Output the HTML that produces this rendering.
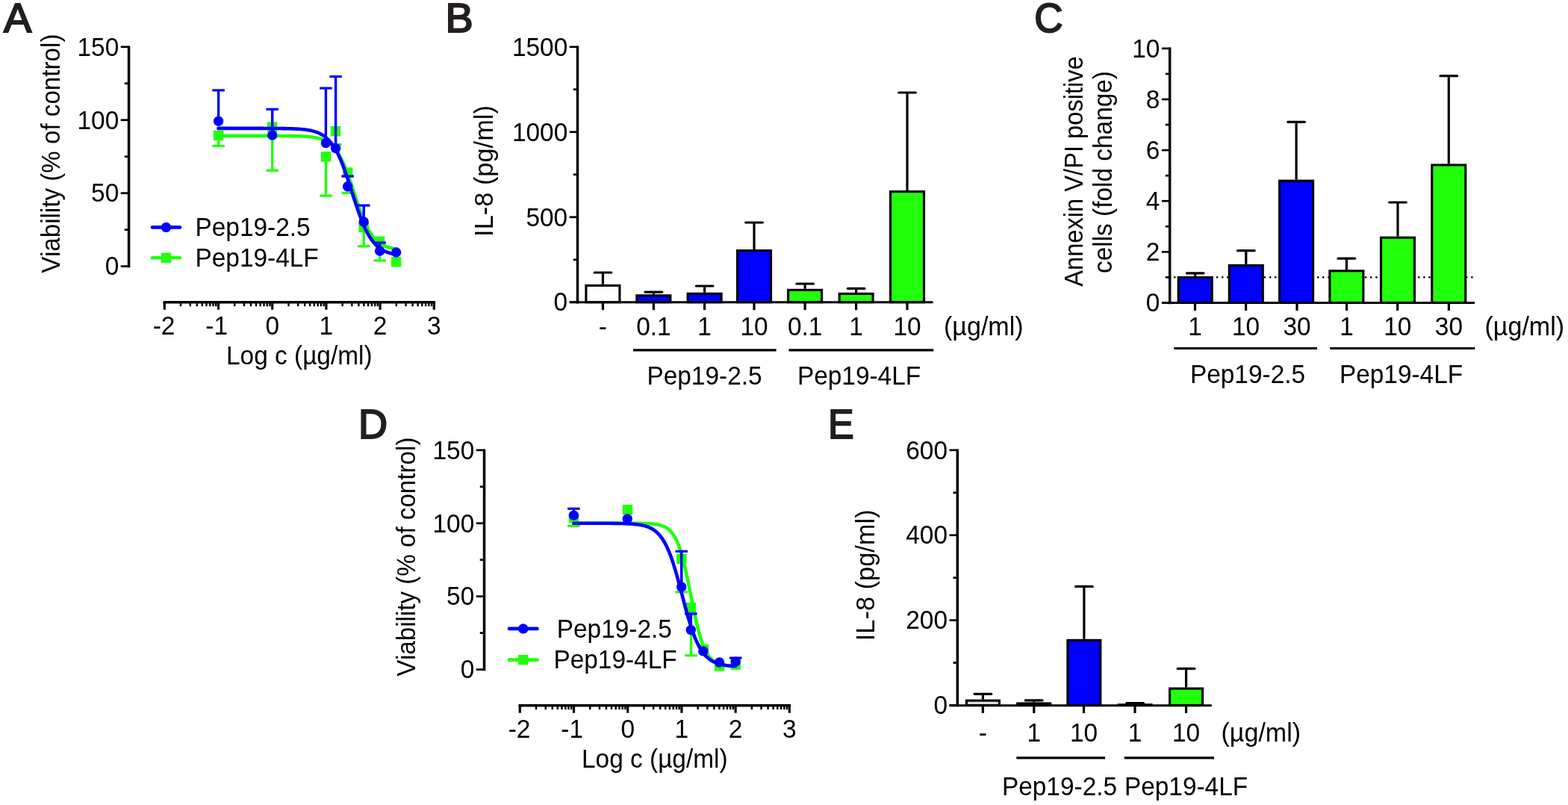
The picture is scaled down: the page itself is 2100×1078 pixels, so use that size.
<!DOCTYPE html>
<html lang="en"><head><meta charset="utf-8"><title>Figure</title>
<style>html,body{margin:0;padding:0;background:#fff}body{width:2100px;height:1078px;overflow:hidden}svg{display:block}</style>
</head><body>
<svg width="2100" height="1078" viewBox="0 0 2100 1078" font-family="'Liberation Sans', Arial, Helvetica, sans-serif" font-size="33.4" text-anchor="middle" fill="#000">
<rect width="2100" height="1078" fill="#fff"/>
<text transform="translate(4.9 43.3) scale(1.0 1)" font-size="55.8" text-anchor="start" fill="#231f20" stroke="#231f20" stroke-width="2.1">A</text>
<text transform="translate(596.5 43.3) scale(1.0 1)" font-size="55.8" text-anchor="start" fill="#231f20" stroke="#231f20" stroke-width="2.1">B</text>
<text transform="translate(1385.3 42.8) scale(0.95 1)" font-size="55.8" text-anchor="start" fill="#231f20" stroke="#231f20" stroke-width="2.1">C</text>
<text transform="translate(480 587) scale(0.97 1)" font-size="55.8" text-anchor="start" fill="#231f20" stroke="#231f20" stroke-width="2.1">D</text>
<text transform="translate(1109 587) scale(0.93 1)" font-size="55.8" text-anchor="start" fill="#231f20" stroke="#231f20" stroke-width="2.1">E</text>
<line x1="172.55" y1="61.45" x2="172.55" y2="358.35" stroke="#000" stroke-width="3.5" stroke-linecap="butt"/>
<line x1="161.75" y1="62.8" x2="172.55" y2="62.8" stroke="#000" stroke-width="2.7" stroke-linecap="butt"/>
<text transform="translate(159.25 74.59) scale(1 1.04)" text-anchor="end">150</text>
<line x1="166.75" y1="111.77" x2="172.55" y2="111.77" stroke="#000" stroke-width="2.7" stroke-linecap="butt"/>
<line x1="161.75" y1="160.73" x2="172.55" y2="160.73" stroke="#000" stroke-width="2.7" stroke-linecap="butt"/>
<text transform="translate(159.25 172.52) scale(1 1.04)" text-anchor="end">100</text>
<line x1="166.75" y1="209.7" x2="172.55" y2="209.7" stroke="#000" stroke-width="2.7" stroke-linecap="butt"/>
<line x1="161.75" y1="258.67" x2="172.55" y2="258.67" stroke="#000" stroke-width="2.7" stroke-linecap="butt"/>
<text transform="translate(159.25 270.46) scale(1 1.04)" text-anchor="end">50</text>
<line x1="166.75" y1="307.63" x2="172.55" y2="307.63" stroke="#000" stroke-width="2.7" stroke-linecap="butt"/>
<line x1="161.75" y1="356.6" x2="172.55" y2="356.6" stroke="#000" stroke-width="2.7" stroke-linecap="butt"/>
<text transform="translate(159.25 368.39) scale(1 1.04)" text-anchor="end">0</text>
<line x1="218.55" y1="404.7" x2="583.05" y2="404.7" stroke="#000" stroke-width="3.5" stroke-linecap="butt"/>
<line x1="220.3" y1="404.7" x2="220.3" y2="414.7" stroke="#000" stroke-width="3.2" stroke-linecap="butt"/>
<text transform="translate(219.5 448.2) scale(1 1.04)">-2</text>
<line x1="242.03" y1="404.7" x2="242.03" y2="410.2" stroke="#000" stroke-width="2.4" stroke-linecap="butt"/>
<line x1="254.75" y1="404.7" x2="254.75" y2="410.2" stroke="#000" stroke-width="2.4" stroke-linecap="butt"/>
<line x1="263.77" y1="404.7" x2="263.77" y2="410.2" stroke="#000" stroke-width="2.4" stroke-linecap="butt"/>
<line x1="270.77" y1="404.7" x2="270.77" y2="410.2" stroke="#000" stroke-width="2.4" stroke-linecap="butt"/>
<line x1="276.48" y1="404.7" x2="276.48" y2="410.2" stroke="#000" stroke-width="2.4" stroke-linecap="butt"/>
<line x1="281.32" y1="404.7" x2="281.32" y2="410.2" stroke="#000" stroke-width="2.4" stroke-linecap="butt"/>
<line x1="285.5" y1="404.7" x2="285.5" y2="410.2" stroke="#000" stroke-width="2.4" stroke-linecap="butt"/>
<line x1="289.2" y1="404.7" x2="289.2" y2="410.2" stroke="#000" stroke-width="2.4" stroke-linecap="butt"/>
<line x1="292.5" y1="404.7" x2="292.5" y2="414.7" stroke="#000" stroke-width="3.2" stroke-linecap="butt"/>
<text transform="translate(290.1 448.2) scale(1 1.04)">-1</text>
<line x1="314.23" y1="404.7" x2="314.23" y2="410.2" stroke="#000" stroke-width="2.4" stroke-linecap="butt"/>
<line x1="326.95" y1="404.7" x2="326.95" y2="410.2" stroke="#000" stroke-width="2.4" stroke-linecap="butt"/>
<line x1="335.97" y1="404.7" x2="335.97" y2="410.2" stroke="#000" stroke-width="2.4" stroke-linecap="butt"/>
<line x1="342.97" y1="404.7" x2="342.97" y2="410.2" stroke="#000" stroke-width="2.4" stroke-linecap="butt"/>
<line x1="348.68" y1="404.7" x2="348.68" y2="410.2" stroke="#000" stroke-width="2.4" stroke-linecap="butt"/>
<line x1="353.52" y1="404.7" x2="353.52" y2="410.2" stroke="#000" stroke-width="2.4" stroke-linecap="butt"/>
<line x1="357.7" y1="404.7" x2="357.7" y2="410.2" stroke="#000" stroke-width="2.4" stroke-linecap="butt"/>
<line x1="361.4" y1="404.7" x2="361.4" y2="410.2" stroke="#000" stroke-width="2.4" stroke-linecap="butt"/>
<line x1="364.7" y1="404.7" x2="364.7" y2="414.7" stroke="#000" stroke-width="3.2" stroke-linecap="butt"/>
<text transform="translate(364.7 448.2) scale(1 1.04)">0</text>
<line x1="386.43" y1="404.7" x2="386.43" y2="410.2" stroke="#000" stroke-width="2.4" stroke-linecap="butt"/>
<line x1="399.15" y1="404.7" x2="399.15" y2="410.2" stroke="#000" stroke-width="2.4" stroke-linecap="butt"/>
<line x1="408.17" y1="404.7" x2="408.17" y2="410.2" stroke="#000" stroke-width="2.4" stroke-linecap="butt"/>
<line x1="415.17" y1="404.7" x2="415.17" y2="410.2" stroke="#000" stroke-width="2.4" stroke-linecap="butt"/>
<line x1="420.88" y1="404.7" x2="420.88" y2="410.2" stroke="#000" stroke-width="2.4" stroke-linecap="butt"/>
<line x1="425.72" y1="404.7" x2="425.72" y2="410.2" stroke="#000" stroke-width="2.4" stroke-linecap="butt"/>
<line x1="429.9" y1="404.7" x2="429.9" y2="410.2" stroke="#000" stroke-width="2.4" stroke-linecap="butt"/>
<line x1="433.6" y1="404.7" x2="433.6" y2="410.2" stroke="#000" stroke-width="2.4" stroke-linecap="butt"/>
<line x1="436.9" y1="404.7" x2="436.9" y2="414.7" stroke="#000" stroke-width="3.2" stroke-linecap="butt"/>
<text transform="translate(436.9 448.2) scale(1 1.04)">1</text>
<line x1="458.63" y1="404.7" x2="458.63" y2="410.2" stroke="#000" stroke-width="2.4" stroke-linecap="butt"/>
<line x1="471.35" y1="404.7" x2="471.35" y2="410.2" stroke="#000" stroke-width="2.4" stroke-linecap="butt"/>
<line x1="480.37" y1="404.7" x2="480.37" y2="410.2" stroke="#000" stroke-width="2.4" stroke-linecap="butt"/>
<line x1="487.37" y1="404.7" x2="487.37" y2="410.2" stroke="#000" stroke-width="2.4" stroke-linecap="butt"/>
<line x1="493.08" y1="404.7" x2="493.08" y2="410.2" stroke="#000" stroke-width="2.4" stroke-linecap="butt"/>
<line x1="497.92" y1="404.7" x2="497.92" y2="410.2" stroke="#000" stroke-width="2.4" stroke-linecap="butt"/>
<line x1="502.1" y1="404.7" x2="502.1" y2="410.2" stroke="#000" stroke-width="2.4" stroke-linecap="butt"/>
<line x1="505.8" y1="404.7" x2="505.8" y2="410.2" stroke="#000" stroke-width="2.4" stroke-linecap="butt"/>
<line x1="509.1" y1="404.7" x2="509.1" y2="414.7" stroke="#000" stroke-width="3.2" stroke-linecap="butt"/>
<text transform="translate(509.1 448.2) scale(1 1.04)">2</text>
<line x1="530.83" y1="404.7" x2="530.83" y2="410.2" stroke="#000" stroke-width="2.4" stroke-linecap="butt"/>
<line x1="543.55" y1="404.7" x2="543.55" y2="410.2" stroke="#000" stroke-width="2.4" stroke-linecap="butt"/>
<line x1="552.57" y1="404.7" x2="552.57" y2="410.2" stroke="#000" stroke-width="2.4" stroke-linecap="butt"/>
<line x1="559.57" y1="404.7" x2="559.57" y2="410.2" stroke="#000" stroke-width="2.4" stroke-linecap="butt"/>
<line x1="565.28" y1="404.7" x2="565.28" y2="410.2" stroke="#000" stroke-width="2.4" stroke-linecap="butt"/>
<line x1="570.12" y1="404.7" x2="570.12" y2="410.2" stroke="#000" stroke-width="2.4" stroke-linecap="butt"/>
<line x1="574.3" y1="404.7" x2="574.3" y2="410.2" stroke="#000" stroke-width="2.4" stroke-linecap="butt"/>
<line x1="578" y1="404.7" x2="578" y2="410.2" stroke="#000" stroke-width="2.4" stroke-linecap="butt"/>
<line x1="581.3" y1="404.7" x2="581.3" y2="414.7" stroke="#000" stroke-width="3.2" stroke-linecap="butt"/>
<text transform="translate(581.3 448.2) scale(1 1.04)">3</text>
<text transform="translate(400.8 488.4) scale(1 1.04)">Log c (µg/ml)</text>
<text transform="translate(79.7 205.6) rotate(-90) scale(0.993 1.04)">Viability (% of control)</text>
<polyline points="292.4,181.89 295.38,181.89 298.36,181.89 301.34,181.89 304.32,181.89 307.3,181.89 310.27,181.89 313.25,181.89 316.23,181.89 319.21,181.89 322.19,181.89 325.17,181.89 328.15,181.89 331.13,181.89 334.11,181.89 337.09,181.89 340.07,181.89 343.05,181.89 346.02,181.89 349,181.89 351.98,181.9 354.96,181.9 357.94,181.9 360.92,181.91 363.9,181.91 366.88,181.92 369.86,181.92 372.84,181.93 375.82,181.95 378.8,181.96 381.77,181.98 384.75,182.01 387.73,182.04 390.71,182.08 393.69,182.13 396.67,182.2 399.65,182.28 402.63,182.39 405.61,182.52 408.59,182.69 411.57,182.91 414.55,183.18 417.52,183.52 420.5,183.95 423.48,184.5 426.46,185.18 429.44,186.04 432.42,187.12 435.4,188.46 438.38,190.12 441.36,192.18 444.34,194.71 447.32,197.8 450.3,201.52 453.27,205.95 456.25,211.17 459.23,217.21 462.21,224.07 465.19,231.7 468.17,239.99 471.15,248.77 474.13,257.81 477.11,266.87 480.09,275.7 483.07,284.07 486.04,291.81 489.02,298.79 492,304.95 494.98,310.28 497.96,314.83 500.94,318.65 503.92,321.82 506.9,324.42 509.88,326.54 512.86,328.26 515.84,329.65 518.82,330.76 521.79,331.65 524.77,332.36 527.75,332.92 530.73,333.36" fill="none" stroke="#21ff0b" stroke-width="4.6" stroke-linejoin="round" stroke-linecap="round"/>
<line x1="292.6" y1="181.4" x2="292.6" y2="195.5" stroke="#21ff0b" stroke-width="3.4" stroke-linecap="butt"/>
<line x1="284.35" y1="195.5" x2="300.85" y2="195.5" stroke="#21ff0b" stroke-width="3.2" stroke-linecap="butt"/>
<line x1="364.7" y1="170" x2="364.7" y2="228.3" stroke="#21ff0b" stroke-width="3.4" stroke-linecap="butt"/>
<line x1="356.45" y1="228.3" x2="372.95" y2="228.3" stroke="#21ff0b" stroke-width="3.2" stroke-linecap="butt"/>
<line x1="436.5" y1="209.8" x2="436.5" y2="262.1" stroke="#21ff0b" stroke-width="3.4" stroke-linecap="butt"/>
<line x1="428.25" y1="262.1" x2="444.75" y2="262.1" stroke="#21ff0b" stroke-width="3.2" stroke-linecap="butt"/>
<line x1="449.4" y1="175.7" x2="449.4" y2="193.5" stroke="#21ff0b" stroke-width="3.4" stroke-linecap="butt"/>
<line x1="441.15" y1="193.5" x2="457.65" y2="193.5" stroke="#21ff0b" stroke-width="3.2" stroke-linecap="butt"/>
<line x1="465.8" y1="231" x2="465.8" y2="258.4" stroke="#21ff0b" stroke-width="3.4" stroke-linecap="butt"/>
<line x1="457.55" y1="258.4" x2="474.05" y2="258.4" stroke="#21ff0b" stroke-width="3.2" stroke-linecap="butt"/>
<line x1="487.2" y1="304.5" x2="487.2" y2="329.8" stroke="#21ff0b" stroke-width="3.4" stroke-linecap="butt"/>
<line x1="478.95" y1="329.8" x2="495.45" y2="329.8" stroke="#21ff0b" stroke-width="3.2" stroke-linecap="butt"/>
<line x1="508.6" y1="323.2" x2="508.6" y2="348.9" stroke="#21ff0b" stroke-width="3.4" stroke-linecap="butt"/>
<line x1="500.35" y1="348.9" x2="516.85" y2="348.9" stroke="#21ff0b" stroke-width="3.2" stroke-linecap="butt"/>
<rect x="285.9" y="174.7" width="13.4" height="13.4" fill="#21ff0b"/>
<rect x="358" y="163.3" width="13.4" height="13.4" fill="#21ff0b"/>
<rect x="429.8" y="203.1" width="13.4" height="13.4" fill="#21ff0b"/>
<rect x="442.7" y="169" width="13.4" height="13.4" fill="#21ff0b"/>
<rect x="459.1" y="224.3" width="13.4" height="13.4" fill="#21ff0b"/>
<rect x="480.5" y="297.8" width="13.4" height="13.4" fill="#21ff0b"/>
<rect x="501.9" y="316.5" width="13.4" height="13.4" fill="#21ff0b"/>
<rect x="523.9" y="344.1" width="13.4" height="13.4" fill="#21ff0b"/>
<polyline points="292.4,171.9 295.38,171.9 298.36,171.9 301.34,171.9 304.32,171.9 307.3,171.9 310.27,171.9 313.25,171.9 316.23,171.9 319.21,171.9 322.19,171.9 325.17,171.9 328.15,171.9 331.13,171.9 334.11,171.9 337.09,171.91 340.07,171.91 343.05,171.91 346.02,171.91 349,171.92 351.98,171.92 354.96,171.93 357.94,171.94 360.92,171.95 363.9,171.96 366.88,171.98 369.86,172 372.84,172.02 375.82,172.05 378.8,172.09 381.77,172.14 384.75,172.19 387.73,172.26 390.71,172.35 393.69,172.47 396.67,172.6 399.65,172.78 402.63,172.99 405.61,173.25 408.59,173.58 411.57,173.99 414.55,174.49 417.52,175.11 420.5,175.88 423.48,176.82 426.46,177.98 429.44,179.4 432.42,181.13 435.4,183.24 438.38,185.78 441.36,188.84 444.34,192.47 447.32,196.77 450.3,201.78 453.27,207.56 456.25,214.12 459.23,221.44 462.21,229.47 465.19,238.09 468.17,247.14 471.15,256.43 474.13,265.75 477.11,274.86 480.09,283.59 483.07,291.75 486.04,299.22 489.02,305.94 492,311.88 494.98,317.05 497.96,321.48 500.94,325.25 503.92,328.42 506.9,331.06 509.88,333.26 512.86,335.06 515.84,336.54 518.82,337.75 521.79,338.73 524.77,339.53 527.75,340.18 530.73,340.71" fill="none" stroke="#0000ff" stroke-width="4.6" stroke-linejoin="round" stroke-linecap="round"/>
<line x1="292.6" y1="162.2" x2="292.6" y2="120.9" stroke="#0000ff" stroke-width="3.4" stroke-linecap="butt"/>
<line x1="284.35" y1="120.9" x2="300.85" y2="120.9" stroke="#0000ff" stroke-width="3.2" stroke-linecap="butt"/>
<line x1="364.7" y1="181" x2="364.7" y2="146.3" stroke="#0000ff" stroke-width="3.4" stroke-linecap="butt"/>
<line x1="356.45" y1="146.3" x2="372.95" y2="146.3" stroke="#0000ff" stroke-width="3.2" stroke-linecap="butt"/>
<line x1="436.4" y1="191.6" x2="436.4" y2="118.1" stroke="#0000ff" stroke-width="3.4" stroke-linecap="butt"/>
<line x1="428.15" y1="118.1" x2="444.65" y2="118.1" stroke="#0000ff" stroke-width="3.2" stroke-linecap="butt"/>
<line x1="449.6" y1="198.5" x2="449.6" y2="102.5" stroke="#0000ff" stroke-width="3.4" stroke-linecap="butt"/>
<line x1="441.35" y1="102.5" x2="457.85" y2="102.5" stroke="#0000ff" stroke-width="3.2" stroke-linecap="butt"/>
<line x1="465.6" y1="249.8" x2="465.6" y2="236" stroke="#0000ff" stroke-width="3.4" stroke-linecap="butt"/>
<line x1="457.35" y1="236" x2="473.85" y2="236" stroke="#0000ff" stroke-width="3.2" stroke-linecap="butt"/>
<line x1="487.2" y1="297" x2="487.2" y2="275.1" stroke="#0000ff" stroke-width="3.4" stroke-linecap="butt"/>
<line x1="478.95" y1="275.1" x2="495.45" y2="275.1" stroke="#0000ff" stroke-width="3.2" stroke-linecap="butt"/>
<line x1="508.6" y1="336" x2="508.6" y2="325" stroke="#0000ff" stroke-width="3.4" stroke-linecap="butt"/>
<line x1="500.35" y1="325" x2="516.85" y2="325" stroke="#0000ff" stroke-width="3.2" stroke-linecap="butt"/>
<circle cx="292.6" cy="162.2" r="6.7" fill="#0000ff"/>
<circle cx="364.7" cy="181" r="6.7" fill="#0000ff"/>
<circle cx="436.4" cy="191.6" r="6.7" fill="#0000ff"/>
<circle cx="449.6" cy="198.5" r="6.7" fill="#0000ff"/>
<circle cx="465.6" cy="249.8" r="6.7" fill="#0000ff"/>
<circle cx="487.2" cy="297" r="6.7" fill="#0000ff"/>
<circle cx="508.6" cy="336" r="6.7" fill="#0000ff"/>
<circle cx="530.6" cy="338" r="6.7" fill="#0000ff"/>
<line x1="204" y1="304.4" x2="241" y2="304.4" stroke="#0000ff" stroke-width="4.6" stroke-linecap="round"/>
<circle cx="222.5" cy="304.4" r="6.7" fill="#0000ff"/>
<line x1="204" y1="345.3" x2="241" y2="345.3" stroke="#21ff0b" stroke-width="4.6" stroke-linecap="round"/>
<rect x="215.8" y="338.6" width="13.4" height="13.4" fill="#21ff0b"/>
<text transform="translate(261.5 316.2) scale(1 1.04)" text-anchor="start">Pep19-2.5</text>
<text transform="translate(261.5 357.2) scale(1 1.04)" text-anchor="start">Pep19-4LF</text>
<line x1="648.55" y1="601.45" x2="648.55" y2="898.35" stroke="#000" stroke-width="3.5" stroke-linecap="butt"/>
<line x1="637.75" y1="602.8" x2="648.55" y2="602.8" stroke="#000" stroke-width="2.7" stroke-linecap="butt"/>
<text transform="translate(635.25 614.59) scale(1 1.04)" text-anchor="end">150</text>
<line x1="642.75" y1="651.77" x2="648.55" y2="651.77" stroke="#000" stroke-width="2.7" stroke-linecap="butt"/>
<line x1="637.75" y1="700.73" x2="648.55" y2="700.73" stroke="#000" stroke-width="2.7" stroke-linecap="butt"/>
<text transform="translate(635.25 712.52) scale(1 1.04)" text-anchor="end">100</text>
<line x1="642.75" y1="749.7" x2="648.55" y2="749.7" stroke="#000" stroke-width="2.7" stroke-linecap="butt"/>
<line x1="637.75" y1="798.67" x2="648.55" y2="798.67" stroke="#000" stroke-width="2.7" stroke-linecap="butt"/>
<text transform="translate(635.25 810.46) scale(1 1.04)" text-anchor="end">50</text>
<line x1="642.75" y1="847.63" x2="648.55" y2="847.63" stroke="#000" stroke-width="2.7" stroke-linecap="butt"/>
<line x1="637.75" y1="896.6" x2="648.55" y2="896.6" stroke="#000" stroke-width="2.7" stroke-linecap="butt"/>
<text transform="translate(635.25 908.39) scale(1 1.04)" text-anchor="end">0</text>
<line x1="694.55" y1="944.7" x2="1059.05" y2="944.7" stroke="#000" stroke-width="3.5" stroke-linecap="butt"/>
<line x1="696.3" y1="944.7" x2="696.3" y2="954.7" stroke="#000" stroke-width="3.2" stroke-linecap="butt"/>
<text transform="translate(695.5 988.2) scale(1 1.04)">-2</text>
<line x1="718.03" y1="944.7" x2="718.03" y2="950.2" stroke="#000" stroke-width="2.4" stroke-linecap="butt"/>
<line x1="730.75" y1="944.7" x2="730.75" y2="950.2" stroke="#000" stroke-width="2.4" stroke-linecap="butt"/>
<line x1="739.77" y1="944.7" x2="739.77" y2="950.2" stroke="#000" stroke-width="2.4" stroke-linecap="butt"/>
<line x1="746.77" y1="944.7" x2="746.77" y2="950.2" stroke="#000" stroke-width="2.4" stroke-linecap="butt"/>
<line x1="752.48" y1="944.7" x2="752.48" y2="950.2" stroke="#000" stroke-width="2.4" stroke-linecap="butt"/>
<line x1="757.32" y1="944.7" x2="757.32" y2="950.2" stroke="#000" stroke-width="2.4" stroke-linecap="butt"/>
<line x1="761.5" y1="944.7" x2="761.5" y2="950.2" stroke="#000" stroke-width="2.4" stroke-linecap="butt"/>
<line x1="765.2" y1="944.7" x2="765.2" y2="950.2" stroke="#000" stroke-width="2.4" stroke-linecap="butt"/>
<line x1="768.5" y1="944.7" x2="768.5" y2="954.7" stroke="#000" stroke-width="3.2" stroke-linecap="butt"/>
<text transform="translate(766.1 988.2) scale(1 1.04)">-1</text>
<line x1="790.23" y1="944.7" x2="790.23" y2="950.2" stroke="#000" stroke-width="2.4" stroke-linecap="butt"/>
<line x1="802.95" y1="944.7" x2="802.95" y2="950.2" stroke="#000" stroke-width="2.4" stroke-linecap="butt"/>
<line x1="811.97" y1="944.7" x2="811.97" y2="950.2" stroke="#000" stroke-width="2.4" stroke-linecap="butt"/>
<line x1="818.97" y1="944.7" x2="818.97" y2="950.2" stroke="#000" stroke-width="2.4" stroke-linecap="butt"/>
<line x1="824.68" y1="944.7" x2="824.68" y2="950.2" stroke="#000" stroke-width="2.4" stroke-linecap="butt"/>
<line x1="829.52" y1="944.7" x2="829.52" y2="950.2" stroke="#000" stroke-width="2.4" stroke-linecap="butt"/>
<line x1="833.7" y1="944.7" x2="833.7" y2="950.2" stroke="#000" stroke-width="2.4" stroke-linecap="butt"/>
<line x1="837.4" y1="944.7" x2="837.4" y2="950.2" stroke="#000" stroke-width="2.4" stroke-linecap="butt"/>
<line x1="840.7" y1="944.7" x2="840.7" y2="954.7" stroke="#000" stroke-width="3.2" stroke-linecap="butt"/>
<text transform="translate(840.7 988.2) scale(1 1.04)">0</text>
<line x1="862.43" y1="944.7" x2="862.43" y2="950.2" stroke="#000" stroke-width="2.4" stroke-linecap="butt"/>
<line x1="875.15" y1="944.7" x2="875.15" y2="950.2" stroke="#000" stroke-width="2.4" stroke-linecap="butt"/>
<line x1="884.17" y1="944.7" x2="884.17" y2="950.2" stroke="#000" stroke-width="2.4" stroke-linecap="butt"/>
<line x1="891.17" y1="944.7" x2="891.17" y2="950.2" stroke="#000" stroke-width="2.4" stroke-linecap="butt"/>
<line x1="896.88" y1="944.7" x2="896.88" y2="950.2" stroke="#000" stroke-width="2.4" stroke-linecap="butt"/>
<line x1="901.72" y1="944.7" x2="901.72" y2="950.2" stroke="#000" stroke-width="2.4" stroke-linecap="butt"/>
<line x1="905.9" y1="944.7" x2="905.9" y2="950.2" stroke="#000" stroke-width="2.4" stroke-linecap="butt"/>
<line x1="909.6" y1="944.7" x2="909.6" y2="950.2" stroke="#000" stroke-width="2.4" stroke-linecap="butt"/>
<line x1="912.9" y1="944.7" x2="912.9" y2="954.7" stroke="#000" stroke-width="3.2" stroke-linecap="butt"/>
<text transform="translate(912.9 988.2) scale(1 1.04)">1</text>
<line x1="934.63" y1="944.7" x2="934.63" y2="950.2" stroke="#000" stroke-width="2.4" stroke-linecap="butt"/>
<line x1="947.35" y1="944.7" x2="947.35" y2="950.2" stroke="#000" stroke-width="2.4" stroke-linecap="butt"/>
<line x1="956.37" y1="944.7" x2="956.37" y2="950.2" stroke="#000" stroke-width="2.4" stroke-linecap="butt"/>
<line x1="963.37" y1="944.7" x2="963.37" y2="950.2" stroke="#000" stroke-width="2.4" stroke-linecap="butt"/>
<line x1="969.08" y1="944.7" x2="969.08" y2="950.2" stroke="#000" stroke-width="2.4" stroke-linecap="butt"/>
<line x1="973.92" y1="944.7" x2="973.92" y2="950.2" stroke="#000" stroke-width="2.4" stroke-linecap="butt"/>
<line x1="978.1" y1="944.7" x2="978.1" y2="950.2" stroke="#000" stroke-width="2.4" stroke-linecap="butt"/>
<line x1="981.8" y1="944.7" x2="981.8" y2="950.2" stroke="#000" stroke-width="2.4" stroke-linecap="butt"/>
<line x1="985.1" y1="944.7" x2="985.1" y2="954.7" stroke="#000" stroke-width="3.2" stroke-linecap="butt"/>
<text transform="translate(985.1 988.2) scale(1 1.04)">2</text>
<line x1="1006.83" y1="944.7" x2="1006.83" y2="950.2" stroke="#000" stroke-width="2.4" stroke-linecap="butt"/>
<line x1="1019.55" y1="944.7" x2="1019.55" y2="950.2" stroke="#000" stroke-width="2.4" stroke-linecap="butt"/>
<line x1="1028.57" y1="944.7" x2="1028.57" y2="950.2" stroke="#000" stroke-width="2.4" stroke-linecap="butt"/>
<line x1="1035.57" y1="944.7" x2="1035.57" y2="950.2" stroke="#000" stroke-width="2.4" stroke-linecap="butt"/>
<line x1="1041.28" y1="944.7" x2="1041.28" y2="950.2" stroke="#000" stroke-width="2.4" stroke-linecap="butt"/>
<line x1="1046.12" y1="944.7" x2="1046.12" y2="950.2" stroke="#000" stroke-width="2.4" stroke-linecap="butt"/>
<line x1="1050.3" y1="944.7" x2="1050.3" y2="950.2" stroke="#000" stroke-width="2.4" stroke-linecap="butt"/>
<line x1="1054" y1="944.7" x2="1054" y2="950.2" stroke="#000" stroke-width="2.4" stroke-linecap="butt"/>
<line x1="1057.3" y1="944.7" x2="1057.3" y2="954.7" stroke="#000" stroke-width="3.2" stroke-linecap="butt"/>
<text transform="translate(1057.3 988.2) scale(1 1.04)">3</text>
<text transform="translate(876.8 1028.4) scale(1 1.04)">Log c (µg/ml)</text>
<text transform="translate(555.7 745.6) rotate(-90) scale(0.993 1.04)">Viability (% of control)</text>
<polyline points="768.4,700.73 771.11,700.73 773.82,700.73 776.52,700.73 779.23,700.73 781.94,700.73 784.64,700.73 787.35,700.73 790.06,700.73 792.77,700.73 795.48,700.73 798.18,700.73 800.89,700.73 803.6,700.73 806.31,700.73 809.01,700.73 811.72,700.73 814.43,700.74 817.13,700.74 819.84,700.74 822.55,700.74 825.26,700.74 827.97,700.74 830.67,700.74 833.38,700.75 836.09,700.75 838.8,700.76 841.5,700.76 844.21,700.77 846.92,700.78 849.62,700.8 852.33,700.82 855.04,700.85 857.75,700.89 860.46,700.95 863.16,701.02 865.87,701.11 868.58,701.23 871.29,701.4 873.99,701.62 876.7,701.91 879.41,702.29 882.12,702.8 884.82,703.47 887.53,704.36 890.24,705.52 892.95,707.05 895.65,709.04 898.36,711.62 901.07,714.94 903.77,719.18 906.48,724.5 909.19,731.1 911.9,739.11 914.61,748.61 917.31,759.55 920.02,771.77 922.73,784.92 925.44,798.53 928.14,812.07 930.85,825.01 933.56,836.92 936.27,847.49 938.97,856.59 941.68,864.21 944.39,870.45 947.1,875.47 949.8,879.44 952.51,882.55 955.22,884.96 957.93,886.82 960.63,888.24 963.34,889.32 966.05,890.14 968.75,890.77 971.46,891.24 974.17,891.59 976.88,891.86 979.59,892.07 982.29,892.22 985,892.33" fill="none" stroke="#21ff0b" stroke-width="4.6" stroke-linejoin="round" stroke-linecap="round"/>
<line x1="768.4" y1="693.6" x2="768.4" y2="704.3" stroke="#21ff0b" stroke-width="3.4" stroke-linecap="butt"/>
<line x1="760.15" y1="704.3" x2="776.65" y2="704.3" stroke="#21ff0b" stroke-width="3.2" stroke-linecap="butt"/>
<line x1="912.8" y1="748.5" x2="912.8" y2="792.8" stroke="#21ff0b" stroke-width="3.4" stroke-linecap="butt"/>
<line x1="904.55" y1="792.8" x2="921.05" y2="792.8" stroke="#21ff0b" stroke-width="3.2" stroke-linecap="butt"/>
<line x1="925.5" y1="813.5" x2="925.5" y2="877.8" stroke="#21ff0b" stroke-width="3.4" stroke-linecap="butt"/>
<line x1="917.25" y1="877.8" x2="933.75" y2="877.8" stroke="#21ff0b" stroke-width="3.2" stroke-linecap="butt"/>
<rect x="761.7" y="686.9" width="13.4" height="13.4" fill="#21ff0b"/>
<rect x="833.8" y="675.9" width="13.4" height="13.4" fill="#21ff0b"/>
<rect x="906.1" y="741.8" width="13.4" height="13.4" fill="#21ff0b"/>
<rect x="918.8" y="806.8" width="13.4" height="13.4" fill="#21ff0b"/>
<rect x="935.8" y="862.8" width="13.4" height="13.4" fill="#21ff0b"/>
<rect x="956.9" y="885.3" width="13.4" height="13.4" fill="#21ff0b"/>
<rect x="978.6" y="883.6" width="13.4" height="13.4" fill="#21ff0b"/>
<polyline points="768.4,700.74 771.11,700.74 773.82,700.74 776.52,700.74 779.23,700.74 781.94,700.74 784.64,700.74 787.35,700.74 790.06,700.74 792.77,700.75 795.48,700.75 798.18,700.75 800.89,700.76 803.6,700.76 806.31,700.77 809.01,700.78 811.72,700.79 814.43,700.8 817.13,700.82 819.84,700.84 822.55,700.87 825.26,700.9 827.97,700.94 830.67,700.99 833.38,701.06 836.09,701.13 838.8,701.23 841.5,701.35 844.21,701.49 846.92,701.68 849.62,701.9 852.33,702.18 855.04,702.53 857.75,702.96 860.46,703.48 863.16,704.13 865.87,704.94 868.58,705.92 871.29,707.13 873.99,708.61 876.7,710.41 879.41,712.6 882.12,715.24 884.82,718.41 887.53,722.2 890.24,726.67 892.95,731.9 895.65,737.96 898.36,744.86 901.07,752.62 903.77,761.19 906.48,770.46 909.19,780.3 911.9,790.5 914.61,800.85 917.31,811.1 920.02,821.03 922.73,830.43 925.44,839.14 928.14,847.07 930.85,854.15 933.56,860.37 936.27,865.76 938.97,870.38 941.68,874.3 944.39,877.59 947.1,880.33 949.8,882.6 952.51,884.48 955.22,886.01 957.93,887.27 960.63,888.3 963.34,889.13 966.05,889.81 968.75,890.36 971.46,890.81 974.17,891.17 976.88,891.46 979.59,891.7 982.29,891.89 985,892.04" fill="none" stroke="#0000ff" stroke-width="4.6" stroke-linejoin="round" stroke-linecap="round"/>
<line x1="768.4" y1="690.1" x2="768.4" y2="681.2" stroke="#0000ff" stroke-width="3.4" stroke-linecap="butt"/>
<line x1="760.15" y1="681.2" x2="776.65" y2="681.2" stroke="#0000ff" stroke-width="3.2" stroke-linecap="butt"/>
<line x1="912.7" y1="786" x2="912.7" y2="738.3" stroke="#0000ff" stroke-width="3.4" stroke-linecap="butt"/>
<line x1="904.45" y1="738.3" x2="920.95" y2="738.3" stroke="#0000ff" stroke-width="3.2" stroke-linecap="butt"/>
<line x1="925.3" y1="843.6" x2="925.3" y2="821.9" stroke="#0000ff" stroke-width="3.4" stroke-linecap="butt"/>
<line x1="917.05" y1="821.9" x2="933.55" y2="821.9" stroke="#0000ff" stroke-width="3.2" stroke-linecap="butt"/>
<line x1="985.2" y1="886.1" x2="985.2" y2="881.1" stroke="#0000ff" stroke-width="3.4" stroke-linecap="butt"/>
<line x1="976.95" y1="881.1" x2="993.45" y2="881.1" stroke="#0000ff" stroke-width="3.2" stroke-linecap="butt"/>
<circle cx="768.4" cy="690.1" r="6.7" fill="#0000ff"/>
<circle cx="840.3" cy="694.8" r="6.7" fill="#0000ff"/>
<circle cx="912.7" cy="786" r="6.7" fill="#0000ff"/>
<circle cx="925.3" cy="843.6" r="6.7" fill="#0000ff"/>
<circle cx="941.8" cy="871.9" r="6.7" fill="#0000ff"/>
<circle cx="963.5" cy="887" r="6.7" fill="#0000ff"/>
<circle cx="985.2" cy="886.1" r="6.7" fill="#0000ff"/>
<line x1="682" y1="841.9" x2="719.5" y2="841.9" stroke="#0000ff" stroke-width="4.6" stroke-linecap="round"/>
<circle cx="700.75" cy="841.9" r="6.7" fill="#0000ff"/>
<line x1="682" y1="883.6" x2="719.5" y2="883.6" stroke="#21ff0b" stroke-width="4.6" stroke-linecap="round"/>
<rect x="694.05" y="876.9" width="13.4" height="13.4" fill="#21ff0b"/>
<text transform="translate(822.8 853.6) scale(1 1.04)">Pep19-2.5</text>
<text transform="translate(824 895.3) scale(1 1.04)">Pep19-4LF</text>
<line x1="807.4" y1="365" x2="807.4" y2="380.8" stroke="#000" stroke-width="3.2" stroke-linecap="butt"/>
<line x1="796.1" y1="365" x2="818.7" y2="365" stroke="#000" stroke-width="3.2" stroke-linecap="round"/>
<rect x="784.9" y="382.35" width="45" height="22.35" fill="#fff" stroke="#000" stroke-width="3.1"/>
<line x1="875.35" y1="391.2" x2="875.35" y2="394.2" stroke="#000" stroke-width="3.2" stroke-linecap="butt"/>
<line x1="864.05" y1="391.2" x2="886.65" y2="391.2" stroke="#000" stroke-width="3.2" stroke-linecap="round"/>
<rect x="852.85" y="395.75" width="45" height="8.95" fill="#0000ff" stroke="#000" stroke-width="3.1"/>
<line x1="943.6" y1="383" x2="943.6" y2="391.7" stroke="#000" stroke-width="3.2" stroke-linecap="butt"/>
<line x1="932.3" y1="383" x2="954.9" y2="383" stroke="#000" stroke-width="3.2" stroke-linecap="round"/>
<rect x="921.1" y="393.25" width="45" height="11.45" fill="#0000ff" stroke="#000" stroke-width="3.1"/>
<line x1="1010" y1="298" x2="1010" y2="334" stroke="#000" stroke-width="3.2" stroke-linecap="butt"/>
<line x1="998.7" y1="298" x2="1021.3" y2="298" stroke="#000" stroke-width="3.2" stroke-linecap="round"/>
<rect x="987.5" y="335.55" width="45" height="69.15" fill="#0000ff" stroke="#000" stroke-width="3.1"/>
<line x1="1078.1" y1="380" x2="1078.1" y2="386.8" stroke="#000" stroke-width="3.2" stroke-linecap="butt"/>
<line x1="1066.8" y1="380" x2="1089.4" y2="380" stroke="#000" stroke-width="3.2" stroke-linecap="round"/>
<rect x="1055.6" y="388.35" width="45" height="16.35" fill="#21ff0b" stroke="#000" stroke-width="3.1"/>
<line x1="1146.6" y1="386.3" x2="1146.6" y2="391.8" stroke="#000" stroke-width="3.2" stroke-linecap="butt"/>
<line x1="1135.3" y1="386.3" x2="1157.9" y2="386.3" stroke="#000" stroke-width="3.2" stroke-linecap="round"/>
<rect x="1124.1" y="393.35" width="45" height="11.35" fill="#21ff0b" stroke="#000" stroke-width="3.1"/>
<line x1="1215" y1="124" x2="1215" y2="255" stroke="#000" stroke-width="3.2" stroke-linecap="butt"/>
<line x1="1203.7" y1="124" x2="1226.3" y2="124" stroke="#000" stroke-width="3.2" stroke-linecap="round"/>
<rect x="1192.5" y="256.55" width="45" height="148.15" fill="#21ff0b" stroke="#000" stroke-width="3.1"/>
<line x1="773.5" y1="61.45" x2="773.5" y2="406.45" stroke="#000" stroke-width="3.5" stroke-linecap="butt"/>
<line x1="762.7" y1="62.8" x2="773.5" y2="62.8" stroke="#000" stroke-width="2.7" stroke-linecap="butt"/>
<text transform="translate(760.2 74.59) scale(1 1.04)" text-anchor="end">1500</text>
<line x1="767.7" y1="119.78" x2="773.5" y2="119.78" stroke="#000" stroke-width="2.7" stroke-linecap="butt"/>
<line x1="762.7" y1="176.77" x2="773.5" y2="176.77" stroke="#000" stroke-width="2.7" stroke-linecap="butt"/>
<text transform="translate(760.2 188.56) scale(1 1.04)" text-anchor="end">1000</text>
<line x1="767.7" y1="233.75" x2="773.5" y2="233.75" stroke="#000" stroke-width="2.7" stroke-linecap="butt"/>
<line x1="762.7" y1="290.73" x2="773.5" y2="290.73" stroke="#000" stroke-width="2.7" stroke-linecap="butt"/>
<text transform="translate(760.2 302.52) scale(1 1.04)" text-anchor="end">500</text>
<line x1="767.7" y1="347.72" x2="773.5" y2="347.72" stroke="#000" stroke-width="2.7" stroke-linecap="butt"/>
<line x1="762.7" y1="404.7" x2="773.5" y2="404.7" stroke="#000" stroke-width="2.7" stroke-linecap="butt"/>
<text transform="translate(760.2 416.49) scale(1 1.04)" text-anchor="end">0</text>
<line x1="762.8" y1="404.85" x2="1249.5" y2="404.85" stroke="#000" stroke-width="3" stroke-linecap="butt"/>
<line x1="807.4" y1="404.7" x2="807.4" y2="415.2" stroke="#000" stroke-width="3.2" stroke-linecap="butt"/>
<text transform="translate(807.4 448.5) scale(1 1.04)">-</text>
<line x1="875.35" y1="404.7" x2="875.35" y2="415.2" stroke="#000" stroke-width="3.2" stroke-linecap="butt"/>
<text transform="translate(875.35 448.5) scale(1 1.04)">0.1</text>
<line x1="943.6" y1="404.7" x2="943.6" y2="415.2" stroke="#000" stroke-width="3.2" stroke-linecap="butt"/>
<text transform="translate(943.6 448.5) scale(1 1.04)">1</text>
<line x1="1010" y1="404.7" x2="1010" y2="415.2" stroke="#000" stroke-width="3.2" stroke-linecap="butt"/>
<text transform="translate(1010 448.5) scale(1 1.04)">10</text>
<line x1="1078.1" y1="404.7" x2="1078.1" y2="415.2" stroke="#000" stroke-width="3.2" stroke-linecap="butt"/>
<text transform="translate(1078.1 448.5) scale(1 1.04)">0.1</text>
<line x1="1146.6" y1="404.7" x2="1146.6" y2="415.2" stroke="#000" stroke-width="3.2" stroke-linecap="butt"/>
<text transform="translate(1146.6 448.5) scale(1 1.04)">1</text>
<line x1="1215" y1="404.7" x2="1215" y2="415.2" stroke="#000" stroke-width="3.2" stroke-linecap="butt"/>
<text transform="translate(1215 448.5) scale(1 1.04)">10</text>
<text transform="translate(1264 448.5) scale(1.02 1.04)" text-anchor="start">(µg/ml)</text>
<line x1="848" y1="468.9" x2="1039.6" y2="468.9" stroke="#000" stroke-width="3.2" stroke-linecap="butt"/>
<text transform="translate(943.5 515.3) scale(1 1.04)">Pep19-2.5</text>
<line x1="1056.5" y1="468.9" x2="1250.2" y2="468.9" stroke="#000" stroke-width="3.2" stroke-linecap="butt"/>
<text transform="translate(1150.5 515.3) scale(1 1.04)">Pep19-4LF</text>
<text transform="translate(659.8 229) rotate(-90) scale(1.03 1.04)">IL-8 (pg/ml)</text>
<line x1="1573.2" y1="371.3" x2="1972" y2="371.3" stroke="#000" stroke-width="2.7" stroke-linecap="round" stroke-dasharray="0.01 7.1"/>
<line x1="1600.7" y1="365.8" x2="1600.7" y2="369.9" stroke="#000" stroke-width="3.2" stroke-linecap="butt"/>
<line x1="1589.4" y1="365.8" x2="1612" y2="365.8" stroke="#000" stroke-width="3.2" stroke-linecap="round"/>
<rect x="1578.2" y="371.45" width="45" height="33.95" fill="#0000ff" stroke="#000" stroke-width="3.1"/>
<line x1="1668.8" y1="335.7" x2="1668.8" y2="353.8" stroke="#000" stroke-width="3.2" stroke-linecap="butt"/>
<line x1="1657.5" y1="335.7" x2="1680.1" y2="335.7" stroke="#000" stroke-width="3.2" stroke-linecap="round"/>
<rect x="1646.3" y="355.35" width="45" height="50.05" fill="#0000ff" stroke="#000" stroke-width="3.1"/>
<line x1="1736.1" y1="163.3" x2="1736.1" y2="240.6" stroke="#000" stroke-width="3.2" stroke-linecap="butt"/>
<line x1="1724.8" y1="163.3" x2="1747.4" y2="163.3" stroke="#000" stroke-width="3.2" stroke-linecap="round"/>
<rect x="1713.6" y="242.15" width="45" height="163.25" fill="#0000ff" stroke="#000" stroke-width="3.1"/>
<line x1="1803.4" y1="346.2" x2="1803.4" y2="361.2" stroke="#000" stroke-width="3.2" stroke-linecap="butt"/>
<line x1="1792.1" y1="346.2" x2="1814.7" y2="346.2" stroke="#000" stroke-width="3.2" stroke-linecap="round"/>
<rect x="1780.9" y="362.75" width="45" height="42.65" fill="#21ff0b" stroke="#000" stroke-width="3.1"/>
<line x1="1872" y1="271" x2="1872" y2="316.6" stroke="#000" stroke-width="3.2" stroke-linecap="butt"/>
<line x1="1860.7" y1="271" x2="1883.3" y2="271" stroke="#000" stroke-width="3.2" stroke-linecap="round"/>
<rect x="1849.5" y="318.15" width="45" height="87.25" fill="#21ff0b" stroke="#000" stroke-width="3.1"/>
<line x1="1940.3" y1="101.7" x2="1940.3" y2="219.4" stroke="#000" stroke-width="3.2" stroke-linecap="butt"/>
<line x1="1929" y1="101.7" x2="1951.6" y2="101.7" stroke="#000" stroke-width="3.2" stroke-linecap="round"/>
<rect x="1917.8" y="220.95" width="45" height="184.45" fill="#21ff0b" stroke="#000" stroke-width="3.1"/>
<line x1="1566.7" y1="63.55" x2="1566.7" y2="407.15" stroke="#000" stroke-width="3.5" stroke-linecap="butt"/>
<line x1="1555.9" y1="64.9" x2="1566.7" y2="64.9" stroke="#000" stroke-width="2.7" stroke-linecap="butt"/>
<text transform="translate(1553.4 76.69) scale(1 1.04)" text-anchor="end">10</text>
<line x1="1560.9" y1="98.95" x2="1566.7" y2="98.95" stroke="#000" stroke-width="2.7" stroke-linecap="butt"/>
<line x1="1555.9" y1="133" x2="1566.7" y2="133" stroke="#000" stroke-width="2.7" stroke-linecap="butt"/>
<text transform="translate(1553.4 144.79) scale(1 1.04)" text-anchor="end">8</text>
<line x1="1560.9" y1="167.05" x2="1566.7" y2="167.05" stroke="#000" stroke-width="2.7" stroke-linecap="butt"/>
<line x1="1555.9" y1="201.1" x2="1566.7" y2="201.1" stroke="#000" stroke-width="2.7" stroke-linecap="butt"/>
<text transform="translate(1553.4 212.89) scale(1 1.04)" text-anchor="end">6</text>
<line x1="1560.9" y1="235.15" x2="1566.7" y2="235.15" stroke="#000" stroke-width="2.7" stroke-linecap="butt"/>
<line x1="1555.9" y1="269.2" x2="1566.7" y2="269.2" stroke="#000" stroke-width="2.7" stroke-linecap="butt"/>
<text transform="translate(1553.4 280.99) scale(1 1.04)" text-anchor="end">4</text>
<line x1="1560.9" y1="303.25" x2="1566.7" y2="303.25" stroke="#000" stroke-width="2.7" stroke-linecap="butt"/>
<line x1="1555.9" y1="337.3" x2="1566.7" y2="337.3" stroke="#000" stroke-width="2.7" stroke-linecap="butt"/>
<text transform="translate(1553.4 349.09) scale(1 1.04)" text-anchor="end">2</text>
<line x1="1560.9" y1="371.35" x2="1566.7" y2="371.35" stroke="#000" stroke-width="2.7" stroke-linecap="butt"/>
<line x1="1555.9" y1="405.4" x2="1566.7" y2="405.4" stroke="#000" stroke-width="2.7" stroke-linecap="butt"/>
<text transform="translate(1553.4 417.19) scale(1 1.04)" text-anchor="end">0</text>
<line x1="1556" y1="405.55" x2="1975.1" y2="405.55" stroke="#000" stroke-width="3" stroke-linecap="butt"/>
<line x1="1600.5" y1="405.4" x2="1600.5" y2="415.9" stroke="#000" stroke-width="3.2" stroke-linecap="butt"/>
<text transform="translate(1600.5 449.3) scale(1 1.04)">1</text>
<line x1="1668.6" y1="405.4" x2="1668.6" y2="415.9" stroke="#000" stroke-width="3.2" stroke-linecap="butt"/>
<text transform="translate(1668.6 449.3) scale(1 1.04)">10</text>
<line x1="1737" y1="405.4" x2="1737" y2="415.9" stroke="#000" stroke-width="3.2" stroke-linecap="butt"/>
<text transform="translate(1737 449.3) scale(1 1.04)">30</text>
<line x1="1803.6" y1="405.4" x2="1803.6" y2="415.9" stroke="#000" stroke-width="3.2" stroke-linecap="butt"/>
<text transform="translate(1803.6 449.3) scale(1 1.04)">1</text>
<line x1="1871.7" y1="405.4" x2="1871.7" y2="415.9" stroke="#000" stroke-width="3.2" stroke-linecap="butt"/>
<text transform="translate(1871.7 449.3) scale(1 1.04)">10</text>
<line x1="1940.4" y1="405.4" x2="1940.4" y2="415.9" stroke="#000" stroke-width="3.2" stroke-linecap="butt"/>
<text transform="translate(1940.4 449.3) scale(1 1.04)">30</text>
<text transform="translate(1988.5 449.3) scale(1.02 1.04)" text-anchor="start">(µg/ml)</text>
<line x1="1572.2" y1="466.5" x2="1764" y2="466.5" stroke="#000" stroke-width="3.2" stroke-linecap="butt"/>
<text transform="translate(1671 512.8) scale(1 1.04)">Pep19-2.5</text>
<line x1="1781.2" y1="466.5" x2="1975.3" y2="466.5" stroke="#000" stroke-width="3.2" stroke-linecap="butt"/>
<text transform="translate(1876.5 512.8) scale(1 1.04)">Pep19-4LF</text>
<text transform="translate(1449.6 229.5) rotate(-90) scale(0.978 1.04)">Annexin V/PI positive</text>
<text transform="translate(1489 230.5) rotate(-90) scale(1.0 1.04)">cells (fold change)</text>
<line x1="1316.4" y1="929.3" x2="1316.4" y2="936.6" stroke="#000" stroke-width="3.2" stroke-linecap="butt"/>
<line x1="1305.1" y1="929.3" x2="1327.7" y2="929.3" stroke="#000" stroke-width="3.2" stroke-linecap="round"/>
<rect x="1294.4" y="938.15" width="44" height="6.35" fill="#e0e0e0" stroke="#000" stroke-width="3.1"/>
<line x1="1384.7" y1="937.9" x2="1384.7" y2="940.4" stroke="#000" stroke-width="3.2" stroke-linecap="butt"/>
<line x1="1373.4" y1="937.9" x2="1396" y2="937.9" stroke="#000" stroke-width="3.2" stroke-linecap="round"/>
<rect x="1362.7" y="941.95" width="44" height="2.55" fill="#0000ff" stroke="#000" stroke-width="3.1"/>
<line x1="1451.9" y1="785.4" x2="1451.9" y2="855.8" stroke="#000" stroke-width="3.2" stroke-linecap="butt"/>
<line x1="1440.6" y1="785.4" x2="1463.2" y2="785.4" stroke="#000" stroke-width="3.2" stroke-linecap="round"/>
<rect x="1429.9" y="857.35" width="44" height="87.15" fill="#0000ff" stroke="#000" stroke-width="3.1"/>
<line x1="1520.1" y1="941.6" x2="1520.1" y2="942.2" stroke="#000" stroke-width="3.2" stroke-linecap="butt"/>
<line x1="1508.8" y1="941.6" x2="1531.4" y2="941.6" stroke="#000" stroke-width="3.2" stroke-linecap="round"/>
<rect x="1498.1" y="943.75" width="44" height="0.75" fill="#21ff0b" stroke="#000" stroke-width="3.1"/>
<line x1="1588.6" y1="895.3" x2="1588.6" y2="920.5" stroke="#000" stroke-width="3.2" stroke-linecap="butt"/>
<line x1="1577.3" y1="895.3" x2="1599.9" y2="895.3" stroke="#000" stroke-width="3.2" stroke-linecap="round"/>
<rect x="1566.6" y="922.05" width="44" height="22.45" fill="#21ff0b" stroke="#000" stroke-width="3.1"/>
<line x1="1282.3" y1="601.45" x2="1282.3" y2="946.25" stroke="#000" stroke-width="3.5" stroke-linecap="butt"/>
<line x1="1271.5" y1="602.8" x2="1282.3" y2="602.8" stroke="#000" stroke-width="2.7" stroke-linecap="butt"/>
<text transform="translate(1269 614.59) scale(1 1.04)" text-anchor="end">600</text>
<line x1="1276.5" y1="659.75" x2="1282.3" y2="659.75" stroke="#000" stroke-width="2.7" stroke-linecap="butt"/>
<line x1="1271.5" y1="716.7" x2="1282.3" y2="716.7" stroke="#000" stroke-width="2.7" stroke-linecap="butt"/>
<text transform="translate(1269 728.49) scale(1 1.04)" text-anchor="end">400</text>
<line x1="1276.5" y1="773.65" x2="1282.3" y2="773.65" stroke="#000" stroke-width="2.7" stroke-linecap="butt"/>
<line x1="1271.5" y1="830.6" x2="1282.3" y2="830.6" stroke="#000" stroke-width="2.7" stroke-linecap="butt"/>
<text transform="translate(1269 842.39) scale(1 1.04)" text-anchor="end">200</text>
<line x1="1276.5" y1="887.55" x2="1282.3" y2="887.55" stroke="#000" stroke-width="2.7" stroke-linecap="butt"/>
<line x1="1271.5" y1="944.5" x2="1282.3" y2="944.5" stroke="#000" stroke-width="2.7" stroke-linecap="butt"/>
<text transform="translate(1269 956.29) scale(1 1.04)" text-anchor="end">0</text>
<line x1="1271.5" y1="944.65" x2="1622.8" y2="944.65" stroke="#000" stroke-width="3" stroke-linecap="butt"/>
<line x1="1316.3" y1="944.5" x2="1316.3" y2="955" stroke="#000" stroke-width="3.2" stroke-linecap="butt"/>
<text transform="translate(1316.3 993.1) scale(1 1.04)">-</text>
<line x1="1384.8" y1="944.5" x2="1384.8" y2="955" stroke="#000" stroke-width="3.2" stroke-linecap="butt"/>
<text transform="translate(1384.8 993.1) scale(1 1.04)">1</text>
<line x1="1451.5" y1="944.5" x2="1451.5" y2="955" stroke="#000" stroke-width="3.2" stroke-linecap="butt"/>
<text transform="translate(1451.5 993.1) scale(1 1.04)">10</text>
<line x1="1520" y1="944.5" x2="1520" y2="955" stroke="#000" stroke-width="3.2" stroke-linecap="butt"/>
<text transform="translate(1520 993.1) scale(1 1.04)">1</text>
<line x1="1588.6" y1="944.5" x2="1588.6" y2="955" stroke="#000" stroke-width="3.2" stroke-linecap="butt"/>
<text transform="translate(1588.6 993.1) scale(1 1.04)">10</text>
<text transform="translate(1635.5 993.1) scale(1.02 1.04)" text-anchor="start">(µg/ml)</text>
<line x1="1361.3" y1="1014.9" x2="1480" y2="1014.9" stroke="#000" stroke-width="3.2" stroke-linecap="butt"/>
<text transform="translate(1419 1065) scale(1 1.04)">Pep19-2.5</text>
<line x1="1505.8" y1="1014.9" x2="1626" y2="1014.9" stroke="#000" stroke-width="3.2" stroke-linecap="butt"/>
<text transform="translate(1588.5 1065) scale(1 1.04)">Pep19-4LF</text>
<text transform="translate(1171 770.3) rotate(-90) scale(1.03 1.04)">IL-8 (pg/ml)</text>
</svg>
</body></html>
